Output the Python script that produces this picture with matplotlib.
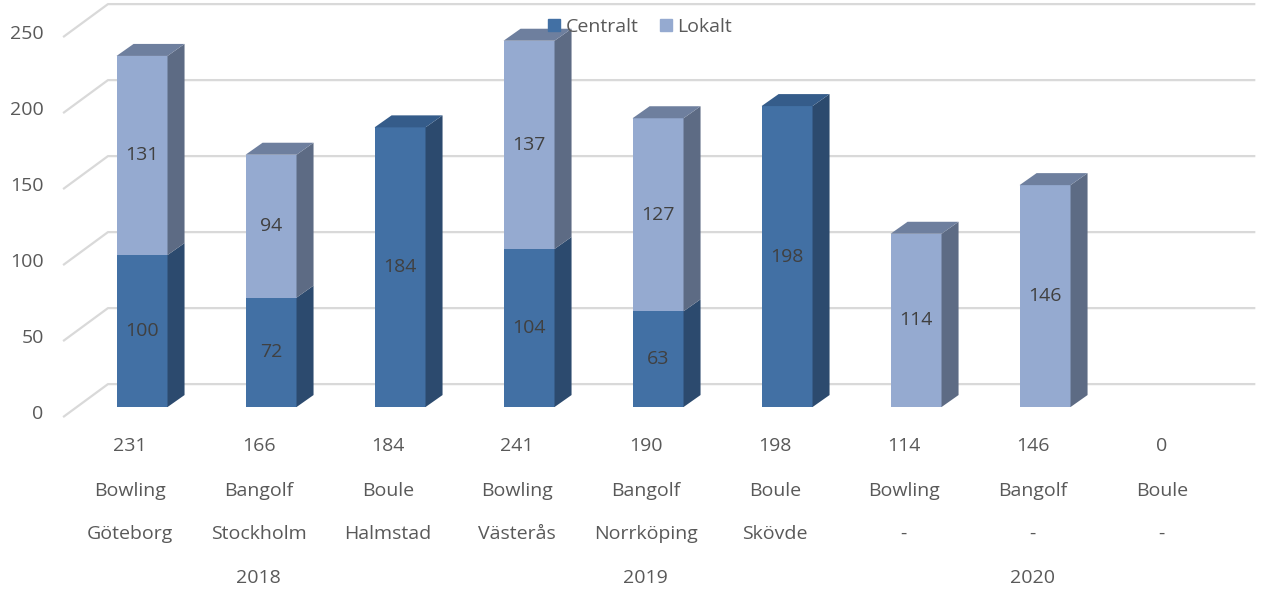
import numpy as np
import matplotlib.pyplot as plt
from matplotlib.patches import Polygon
from matplotlib.lines import Line2D

plt.rcParams['font.family'] = ['Open Sans', 'DejaVu Sans']

sports = ['Bowling', 'Bangolf', 'Boule'] * 3
cities = ['Göteborg', 'Stockholm', 'Halmstad', 'Västerås', 'Norrköping', 'Skövde', '-', '-', '-']
years = ['2018', '2019', '2020']
centralt = [100, 72, 184, 104, 63, 198, 0, 0, 0]
lokalt = [131, 94, 0, 137, 127, 0, 114, 146, 0]
y_ticks = [0, 50, 100, 150, 200, 250]

# colours: front, side, top
dark = ('#4270a4', '#2c4a6e', '#355c8a')
light = ('#95aad0', '#5d6b84', '#6e7f9e')
grid_c = '#d9d9d9'
txt_c = '#595959'
lab_c = '#404040'
fs = 14

# pseudo 3D geometry (data units: x = category, y = value)
bar_w = 0.395
dep_x, dep_y = 0.132, 7.9
gf_x, gf_dy = -0.612, -6.6
gb_x, gb_dy = -0.264, 15.1
g_end = 8.63
lab_shift = -0.095  # axis labels sit slightly left of the bar fronts

fig = plt.figure(figsize=(12.61, 5.89), dpi=100)
ax = fig.add_axes([0, 0, 1, 1])
ax.set_xlim(-1.101, 8.674)
ax.set_ylim(-119.7, 267.8)
ax.axis('off')

# back wall gridlines
for v in y_ticks:
    ax.plot([gf_x, gb_x, g_end], [v + gf_dy, v + gb_dy, v + gb_dy],
            color=grid_c, lw=1.6, zorder=1, solid_capstyle='butt')
    ax.text(gf_x - 0.15, v - 4.5, str(v), ha='right', va='center',
            fontsize=fs, color=txt_c)


def draw_box(x, y0, y1, cols, top):
    l, r = x - bar_w / 2, x + bar_w / 2
    ax.add_patch(Polygon([(l, y0), (r, y0), (r, y1), (l, y1)], closed=True,
                         facecolor=cols[0], edgecolor='none', zorder=3))
    ax.add_patch(Polygon([(r, y0), (r + dep_x, y0 + dep_y), (r + dep_x, y1 + dep_y), (r, y1)],
                         closed=True, facecolor=cols[1], edgecolor='none', zorder=3))
    if top:
        ax.add_patch(Polygon([(l, y1), (l + dep_x, y1 + dep_y), (r + dep_x, y1 + dep_y), (r, y1)],
                             closed=True, facecolor=cols[2], edgecolor='none', zorder=3))


for i, (c, lo) in enumerate(zip(centralt, lokalt)):
    if c > 0:
        draw_box(i, 0, c, dark, lo == 0)
        ax.text(i, c / 2, str(c), ha='center', va='center', fontsize=fs, color=lab_c, zorder=4)
    if lo > 0:
        draw_box(i, c, c + lo, light, True)
        ax.text(i, c + lo / 2, str(lo), ha='center', va='center', fontsize=fs, color=lab_c, zorder=4)

# category labels
rows = [-25.7, -55.3, -83.6]
for i in range(len(sports)):
    x = i + lab_shift
    ax.text(x, rows[0], str(centralt[i] + lokalt[i]), ha='center', va='center', fontsize=fs, color=txt_c)
    ax.text(x, rows[1], sports[i], ha='center', va='center', fontsize=fs, color=txt_c)
    ax.text(x, rows[2], cities[i], ha='center', va='center', fontsize=fs, color=txt_c)
for k, yr in enumerate(years):
    ax.text(3 * k + 1 + lab_shift, -112.5, yr, ha='center', va='center', fontsize=fs, color=txt_c)

handles = [Line2D([], [], marker='s', ls='none', markersize=8, color=dark[0], label='Centralt'),
           Line2D([], [], marker='s', ls='none', markersize=8, color=light[0], label='Lokalt')]
leg = fig.legend(handles=handles, loc='center', bbox_to_anchor=(639 / 1261, 1 - 27 / 589),
                 ncol=2, frameon=False, fontsize=fs, handlelength=0.8, handletextpad=0.2,
                 columnspacing=1.0, labelcolor=txt_c)
leg.set_zorder(10)

fig.savefig('out.png', dpi=100)
